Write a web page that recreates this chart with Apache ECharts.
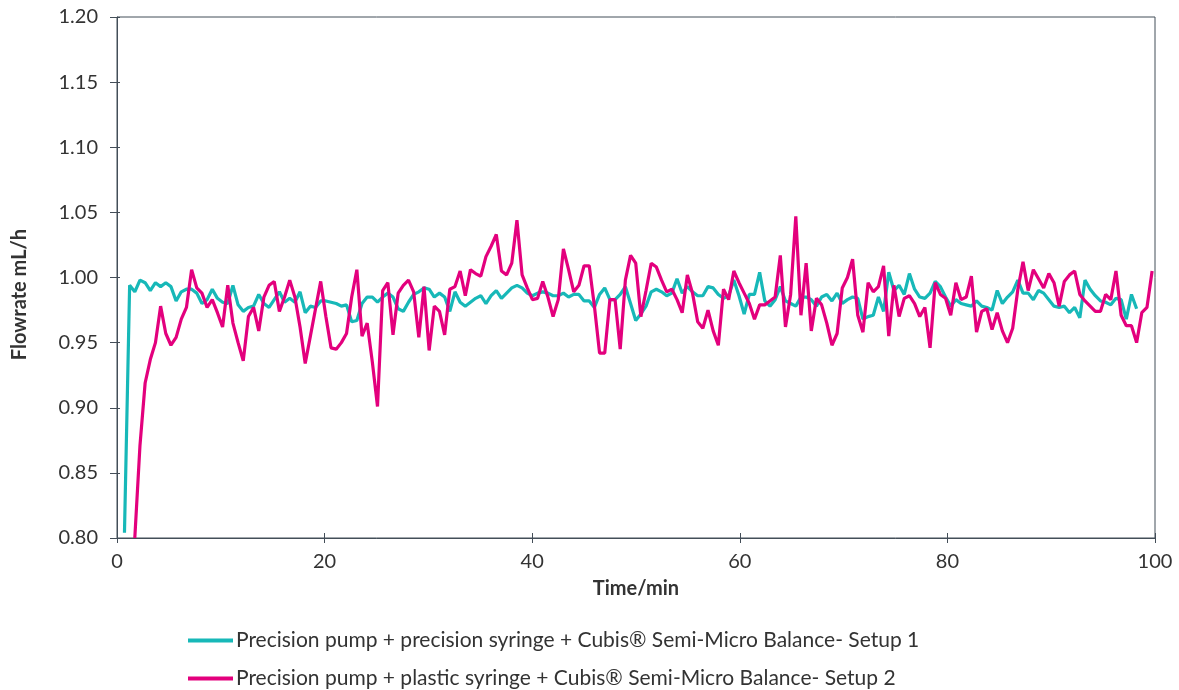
<!DOCTYPE html>
<html>
<head>
<meta charset="utf-8">
<script src="https://cdn.jsdelivr.net/npm/echarts@6/dist/echarts.min.js"></script>
<style>
html,body{margin:0;padding:0;background:#fff;}
#chart{width:1179px;height:690px;}
</style>
</head>
<body>
<div id="chart"></div>
<script>
// Sampling schedule (minutes)
const sampleStart = 0.72;
const sampleStep = 0.4975;
const setup1FirstSample = 0;
const setup2FirstSample = 2;

const seriesNames = [
  "Precision pump + precision syringe + Cubis\u00ae Semi-Micro Balance- Setup 1",
  "Precision pump + plastic syringe + Cubis\u00ae Semi-Micro Balance- Setup 2"
];

const setup1Values = [
0.804,0.994,0.989,0.998,0.996,0.990,0.996,0.993,0.996,0.993,
0.982,0.989,0.991,0.991,0.988,0.980,0.983,0.991,0.984,0.981,
0.980,0.994,0.979,0.974,0.977,0.978,0.987,0.980,0.977,0.983,
0.989,0.981,0.984,0.981,0.989,0.973,0.978,0.977,0.982,0.982,
0.981,0.980,0.978,0.979,0.966,0.967,0.980,0.985,0.985,0.981,
0.985,0.988,0.985,0.976,0.974,0.981,0.987,0.989,0.992,0.991,
0.985,0.988,0.985,0.974,0.989,0.981,0.978,0.981,0.984,0.986,
0.980,0.986,0.990,0.984,0.988,0.992,0.994,0.992,0.988,0.986,
0.988,0.989,0.988,0.986,0.986,0.988,0.985,0.987,0.987,0.982,
0.982,0.977,0.987,0.992,0.983,0.983,0.987,0.993,0.980,0.967,
0.972,0.978,0.989,0.991,0.989,0.986,0.988,0.999,0.988,0.993,
0.989,0.986,0.986,0.993,0.992,0.987,0.984,0.986,0.998,0.986,
0.972,0.987,0.987,1.004,0.982,0.978,0.983,0.993,0.982,0.980,
0.978,0.985,0.985,0.983,0.978,0.985,0.987,0.982,0.988,0.980,
0.983,0.985,0.984,0.968,0.970,0.971,0.985,0.974,1.004,0.990,
0.994,0.987,1.003,0.991,0.985,0.984,0.988,0.997,0.993,0.985,
0.978,0.983,0.980,0.979,0.978,0.982,0.978,0.977,0.975,0.990,
0.980,0.985,0.989,0.998,0.988,0.988,0.983,0.990,0.988,0.983,
0.978,0.977,0.978,0.973,0.977,0.969,0.998,0.991,0.986,0.982,
0.981,0.979,0.984,0.983,0.968,0.987,0.976
];

const setup2Values = [
0.800,0.871,0.919,0.937,0.950,0.978,0.957,0.948,
0.954,0.968,0.977,1.006,0.992,0.988,0.977,0.983,0.973,0.962,
0.994,0.965,0.950,0.936,0.970,0.977,0.959,0.985,0.994,0.997,
0.974,0.985,0.998,0.985,0.962,0.934,0.955,0.976,0.997,0.970,
0.946,0.945,0.950,0.957,0.985,1.006,0.955,0.965,0.935,0.901,
0.990,0.996,0.956,0.988,0.994,0.998,0.989,0.954,0.993,0.944,
0.978,0.974,0.956,0.991,0.993,1.005,0.986,1.006,1.003,1.001,
1.016,1.024,1.033,1.005,1.002,1.011,1.044,1.002,0.992,0.983,
0.984,0.997,0.985,0.970,0.983,1.022,1.006,0.989,0.994,1.009,
1.009,0.978,0.942,0.942,0.983,0.983,0.945,0.998,1.017,1.011,
0.970,0.990,1.011,1.008,0.998,0.989,0.991,0.983,0.973,1.002,
0.988,0.966,0.961,0.975,0.959,0.948,0.991,0.983,1.005,0.996,
0.988,0.980,0.968,0.979,0.979,0.982,0.985,1.017,0.962,0.987,
1.047,0.971,1.011,0.959,0.984,0.979,0.965,0.948,0.957,0.992,
1.000,1.014,0.971,0.958,0.996,0.989,0.993,1.009,0.955,0.994,
0.970,0.984,0.986,0.980,0.970,0.977,0.946,0.996,0.987,0.984,
0.971,0.996,0.983,0.985,1.001,0.958,0.974,0.976,0.960,0.973,
0.959,0.950,0.961,0.991,1.012,0.990,1.006,0.999,0.992,1.003,
0.996,0.978,0.997,1.002,1.005,0.987,0.982,0.978,0.974,0.974,
0.987,0.983,1.005,0.971,0.963,0.963,0.950,0.973,0.977,1.005
];

const xTicks = [0, 20, 40, 60, 80, 100];
const yTicks = [0.80, 0.85, 0.90, 0.95, 1.00, 1.05, 1.10, 1.15, 1.20];

function pairs(values, firstSample) {
  return values.map((v, i) => [sampleStart + (firstSample + i) * sampleStep, v]);
}

const axisColor = '#434e58';
const textColor = '#333333';
const fontFam = 'Lato, "Noto Sans", sans-serif';

const chart = echarts.init(document.getElementById('chart'), null, {renderer: 'canvas'});
chart.setOption({
  animation: false,
  backgroundColor: '#ffffff',
  grid: {
    left: 117, right: 24, top: 17, bottom: 152,
    show: true, borderColor: axisColor, borderWidth: 1, backgroundColor: 'transparent'
  },
  legend: {
    orient: 'vertical',
    left: 188, top: 630,
    padding: 0,
    itemGap: 17,
    itemWidth: 45, itemHeight: 4,
    icon: 'rect',
    textStyle: {fontFamily: fontFam, fontSize: 21, color: textColor, lineHeight: 21, padding: [0,0,0,-2]},
    data: seriesNames
  },
  xAxis: [{
    type: 'value',
    min: xTicks[0], max: xTicks[xTicks.length - 1], interval: 20,
    name: 'Time/min', nameLocation: 'middle', nameGap: 41,
    nameTextStyle: {fontFamily: fontFam, fontSize: 20, fontWeight: 'bold', color: textColor},
    axisLine: {show: true, lineStyle: {color: axisColor, width: 1}},
    axisTick: {show: true, length: 5, lineStyle: {color: axisColor}},
    axisLabel: {fontFamily: fontFam, fontSize: 20, color: textColor, margin: 14},
    splitLine: {show: false}
  }, {
    type: 'value', position: 'bottom',
    min: xTicks[0], max: xTicks[xTicks.length - 1], interval: 20,
    axisLine: {show: false},
    axisTick: {show: true, inside: true, length: 5, lineStyle: {color: axisColor}},
    axisLabel: {show: false}, splitLine: {show: false}
  }],
  yAxis: [{
    type: 'value',
    min: yTicks[0], max: yTicks[yTicks.length - 1], interval: 0.05,
    name: 'Flowrate mL/h', nameLocation: 'middle', nameGap: 87,
    nameTextStyle: {fontFamily: fontFam, fontSize: 20, fontWeight: 'bold', color: textColor,
      padding: [0, 34, 0, 0]},
    axisLine: {show: true, lineStyle: {color: axisColor, width: 1}},
    axisTick: {show: true, length: 7, lineStyle: {color: axisColor}},
    axisLabel: {fontFamily: fontFam, fontSize: 20, color: textColor, margin: 19,
      formatter: v => v.toFixed(2)},
    splitLine: {show: false}
  }, {
    type: 'value', position: 'left',
    min: yTicks[0], max: yTicks[yTicks.length - 1], interval: 0.05,
    axisLine: {show: false},
    axisTick: {show: true, inside: true, length: 3, lineStyle: {color: axisColor}},
    axisLabel: {show: false}, splitLine: {show: false}
  }],
  series: [{
    name: seriesNames[0], type: 'line',
    data: pairs(setup1Values, setup1FirstSample),
    showSymbol: false, symbol: 'none',
    lineStyle: {color: '#17b8b8', width: 3.2},
    itemStyle: {color: '#17b8b8'}
  }, {
    name: seriesNames[1], type: 'line',
    data: pairs(setup2Values, setup2FirstSample),
    showSymbol: false, symbol: 'none',
    lineStyle: {color: '#e3007d', width: 3.2},
    itemStyle: {color: '#e3007d'}
  }]
});
</script>
</body>
</html>
